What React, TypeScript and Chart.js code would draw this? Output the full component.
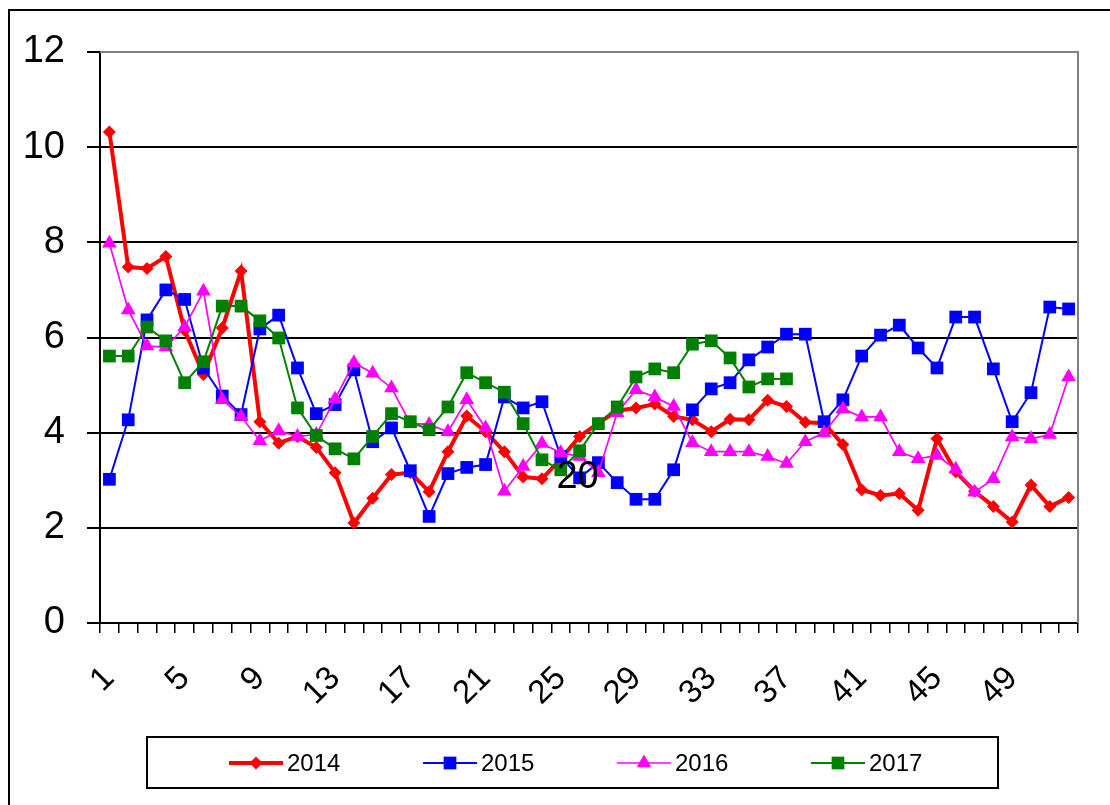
import { useEffect, useRef } from 'react';
import { Chart, registerables } from 'chart.js';

Chart.register(...registerables);

const categories = [
  '1', '2', '3', '4', '5', '6', '7', '8', '9', '10', '11', '12', '13',
  '14', '15', '16', '17', '18', '19', '20', '21', '22', '23', '24', '25', '26',
  '27', '28', '29', '30', '31', '32', '33', '34', '35', '36', '37', '38', '39',
  '40', '41', '42', '43', '44', '45', '46', '47', '48', '49', '50', '51', '52',
];

const shownTickLabels = ['1', '5', '9', '13', '17', '21', '25', '29', '33', '37', '41', '45', '49'];

const seriesNames = ['2014', '2015', '2016', '2017'];

const values2014 = [
  10.32, 7.48, 7.45, 7.7, 6.15, 5.22, 6.2, 7.4, 4.23, 3.78, 3.92, 3.69, 3.16,
  2.1, 2.62, 3.12, 3.16, 2.76, 3.6, 4.35, 4.02, 3.6, 3.07, 3.03, 3.45, 3.92,
  4.2, 4.46, 4.52, 4.6, 4.34, 4.27, 4.02, 4.28, 4.27, 4.68, 4.55, 4.22, 4.2,
  3.75, 2.8, 2.68, 2.72, 2.37, 3.87, 3.18, 2.77, 2.45, 2.12, 2.9, 2.45, 2.64,
];

const values2015 = [
  3.02, 4.27, 6.37, 7.0, 6.8, 5.36, 4.77, 4.38, 6.18, 6.47, 5.36, 4.4, 4.59,
  5.32, 3.81, 4.1, 3.2, 2.24, 3.14, 3.27, 3.33, 4.75, 4.52, 4.65, 3.5, 3.05,
  3.37, 2.95, 2.6, 2.6, 3.22, 4.48, 4.92, 5.05, 5.53, 5.8, 6.07, 6.07, 4.23,
  4.69, 5.61, 6.05, 6.26, 5.78, 5.36, 6.43, 6.43, 5.34, 4.23, 4.84, 6.64, 6.6,
];

const values2016 = [
  7.98, 6.58, 5.82, 5.8, 6.22, 6.97, 4.69, 4.34, 3.83, 4.04, 3.92, 3.96, 4.71,
  5.47, 5.25, 4.94, 4.2, 4.17, 4.02, 4.69, 4.1, 2.77, 3.29, 3.77, 3.58, 3.5,
  3.16, 4.42, 4.9, 4.75, 4.55, 3.79, 3.6, 3.6, 3.6, 3.5, 3.35, 3.81, 4.0,
  4.5, 4.33, 4.33, 3.6, 3.45, 3.52, 3.23, 2.75, 3.03, 3.91, 3.87, 3.96, 5.17,
];

const values2017 = [
  5.61, 5.61, 6.22, 5.93, 5.05, 5.49, 6.66, 6.66, 6.35, 5.99, 4.52, 3.94, 3.66,
  3.45, 3.92, 4.4, 4.23, 4.06, 4.54, 5.26, 5.05, 4.85, 4.19, 3.43, 3.22, 3.62,
  4.19, 4.54, 5.17, 5.34, 5.26, 5.86, 5.93, 5.57, 4.96, 5.13, 5.13,
];

// stray data label seen in the picture, attached to the 2015 series
const annotationText = '20';
const annotationSeries = 1;
const annotationIndex = 25;

const FONT = '"Liberation Sans", Arial, sans-serif';

const styles = [
  { color: '#FF0000', width: 4, point: 'rectRot', radius: 6.5 },
  { color: '#0000FF', width: 2, point: 'rect', radius: 9 },
  { color: '#FF00FF', width: 1.7, point: 'triangle', radius: 8.5 },
  { color: '#008000', width: 2, point: 'rect', radius: 9 },
];

function drawMarker(ctx: CanvasRenderingContext2D, kind: string, x: number, y: number, r: number, color: string) {
  ctx.save();
  ctx.fillStyle = color;
  ctx.beginPath();
  if (kind === 'rectRot') {
    ctx.moveTo(x, y - r);
    ctx.lineTo(x + r, y);
    ctx.lineTo(x, y + r);
    ctx.lineTo(x - r, y);
  } else if (kind === 'rect') {
    const s = r * Math.SQRT1_2;
    ctx.rect(x - s, y - s, 2 * s, 2 * s);
  } else {
    const h = (r * 3) / Math.sqrt(3);
    ctx.moveTo(x, y - r);
    ctx.lineTo(x + h / 2, y + r / 2);
    ctx.lineTo(x - h / 2, y + r / 2);
  }
  ctx.closePath();
  ctx.fill();
  ctx.restore();
}

const overlayPlugin = {
  id: 'overlay',
  beforeDatasetsDraw(chart: any) {
    const { ctx, chartArea } = chart;
    ctx.save();
    ctx.strokeStyle = '#808080';
    ctx.lineWidth = 2;
    ctx.beginPath();
    ctx.moveTo(chartArea.left, chartArea.top);
    ctx.lineTo(chartArea.right, chartArea.top);
    ctx.lineTo(chartArea.right, chartArea.bottom);
    ctx.stroke();
    ctx.restore();
  },
  afterDraw(chart: any) {
    const { ctx } = chart;
    // annotation label
    const pt = chart.getDatasetMeta(annotationSeries).data[annotationIndex];
    if (pt) {
      ctx.save();
      ctx.fillStyle = '#000';
      ctx.font = `38px ${FONT}`;
      ctx.textAlign = 'center';
      ctx.textBaseline = 'middle';
      ctx.fillText(annotationText, pt.x - 2, pt.y);
      ctx.restore();
    }
    // legend
    ctx.save();
    ctx.strokeStyle = '#000';
    ctx.lineWidth = 2;
    ctx.strokeRect(147, 737, 851, 51);
    const cy = 763;
    seriesNames.forEach((name, i) => {
      const st = styles[i];
      const x0 = 229 + i * 194;
      ctx.strokeStyle = st.color;
      ctx.lineWidth = st.width;
      ctx.beginPath();
      ctx.moveTo(x0, cy);
      ctx.lineTo(x0 + 54, cy);
      ctx.stroke();
      drawMarker(ctx, st.point, x0 + 27, cy, st.radius, st.color);
      ctx.fillStyle = '#000';
      ctx.font = `24px ${FONT}`;
      ctx.textAlign = 'left';
      ctx.textBaseline = 'middle';
      ctx.fillText(name, x0 + 58, cy + 1);
    });
    ctx.restore();
  },
};

export default function App() {
  const canvasRef = useRef<HTMLCanvasElement | null>(null);

  useEffect(() => {
    document.body.style.margin = '0';
    document.body.style.overflow = 'hidden';
    const canvas = canvasRef.current;
    if (!canvas) return;
    const allValues = [values2014, values2015, values2016, values2017];
    const chart = new Chart(canvas, {
      type: 'line',
      data: {
        labels: categories,
        datasets: allValues.map((vals, i) => ({
          label: seriesNames[i],
          data: vals,
          borderColor: styles[i].color,
          backgroundColor: styles[i].color,
          borderWidth: styles[i].width,
          pointStyle: styles[i].point as any,
          pointRadius: styles[i].radius,
          pointBorderWidth: 0,
          pointBackgroundColor: styles[i].color,
          pointBorderColor: styles[i].color,
          tension: 0,
          fill: false,
          order: 3 - i,
        })),
      },
      options: {
        responsive: false,
        animation: false,
        events: [],
        layout: { padding: { left: 0, top: 52, right: 32, bottom: 0 } },
        plugins: { legend: { display: false }, tooltip: { enabled: false } },
        scales: {
          x: {
            type: 'category',
            offset: true,
            grid: {
              display: true,
              drawOnChartArea: false,
              drawTicks: true,
              tickLength: 10,
              offset: true,
              color: '#000',
              lineWidth: 1.5,
            },
            border: { display: true, color: '#000', width: 2 },
            ticks: {
              autoSkip: false,
              minRotation: 45,
              maxRotation: 45,
              padding: 26,
              color: '#000',
              font: { family: FONT, size: 33 },
              callback: (_v: any, i: number) =>
                shownTickLabels.includes(categories[i]) ? categories[i] : '',
            },
            afterFit: (s: any) => {
              s.height = 182;
              s.paddingLeft = 0;
              s.paddingRight = 0;
            },
          },
          y: {
            min: 0,
            max: 12,
            grid: {
              color: (c: any) => (c.tick && c.tick.value === 12 ? '#808080' : '#000'),
              tickColor: '#000',
              lineWidth: 2,
              tickLength: 13,
            },
            border: { display: true, color: '#000', width: 2 },
            ticks: {
              stepSize: 2,
              padding: 22,
              color: '#000',
              font: { family: FONT, size: 38 },
            },
            afterFit: (s: any) => {
              s.width = 100;
            },
          },
        },
      },
      plugins: [overlayPlugin],
    });
    return () => chart.destroy();
  }, []);

  return (
    <div style={{ position: 'relative', width: 1110, height: 805, overflow: 'hidden', background: '#fff' }}>
      <div
        style={{
          position: 'absolute',
          left: 8,
          top: 9,
          width: 1200,
          height: 900,
          border: '2px solid #000',
          boxSizing: 'border-box',
        }}
      />
      <canvas
        ref={canvasRef}
        width={1110}
        height={805}
        style={{ position: 'absolute', left: 0, top: 0, width: 1110, height: 805 }}
      />
    </div>
  );
}
